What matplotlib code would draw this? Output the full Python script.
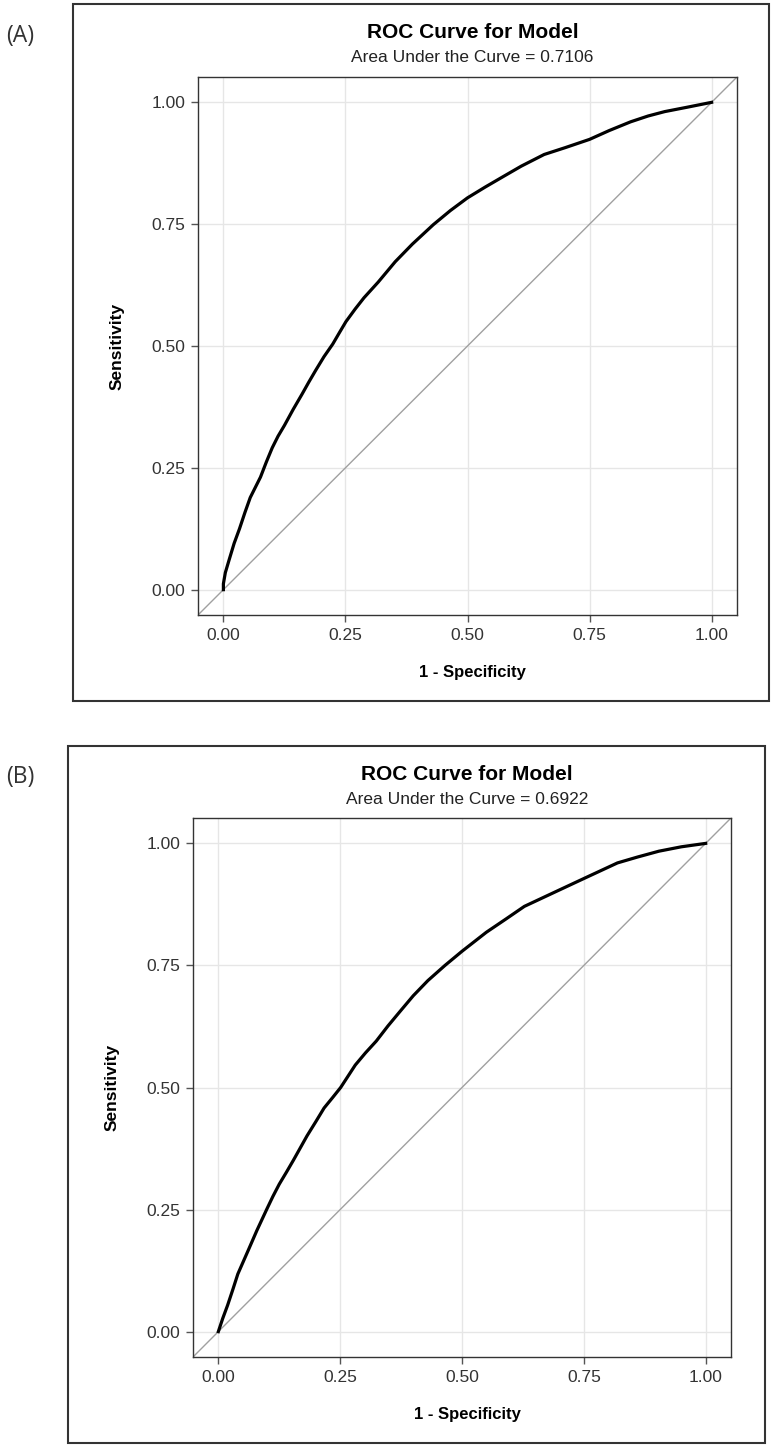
import matplotlib
matplotlib.use('Agg')
import matplotlib.pyplot as plt
from matplotlib.patches import Rectangle

# figure size in pixels
W, H = 776, 1446

# ROC curve points
fpr_a = [0.0, 0.0, 0.004, 0.012, 0.022, 0.033, 0.044, 0.055, 0.066, 0.076, 0.088,
         0.10, 0.112, 0.125, 0.143, 0.161, 0.175, 0.189, 0.206, 0.224, 0.238,
         0.251, 0.27, 0.288, 0.317, 0.352, 0.387, 0.43, 0.465, 0.50, 0.536,
         0.572, 0.61, 0.657, 0.70, 0.75, 0.79, 0.834, 0.87, 0.904, 0.95, 1.0]
tpr_a = [0.0, 0.012, 0.035, 0.062, 0.095, 0.125, 0.158, 0.189, 0.211, 0.231, 0.262,
         0.291, 0.315, 0.337, 0.37, 0.401, 0.426, 0.45, 0.478, 0.504, 0.528,
         0.55, 0.576, 0.599, 0.631, 0.673, 0.709, 0.749, 0.778, 0.804, 0.826,
         0.847, 0.869, 0.893, 0.907, 0.924, 0.942, 0.96, 0.972, 0.981, 0.99, 1.0]
auc_a = 0.7106

# ROC curve points
fpr_b = [0.0, 0.009, 0.019, 0.03, 0.04, 0.051, 0.062, 0.079, 0.10, 0.112, 0.125,
         0.14, 0.154, 0.168, 0.182, 0.2, 0.217, 0.235, 0.251, 0.281, 0.302,
         0.324, 0.348, 0.373, 0.40, 0.43, 0.465, 0.50, 0.55, 0.59, 0.628, 0.69,
         0.75, 0.819, 0.86, 0.904, 0.95, 1.0]
tpr_b = [0.0, 0.027, 0.054, 0.087, 0.118, 0.143, 0.168, 0.207, 0.252, 0.277, 0.302,
         0.327, 0.351, 0.376, 0.401, 0.43, 0.458, 0.48, 0.50, 0.546, 0.571,
         0.595, 0.626, 0.656, 0.688, 0.719, 0.75, 0.779, 0.818, 0.845, 0.871,
         0.90, 0.928, 0.96, 0.972, 0.984, 0.993, 1.0]
auc_b = 0.6922

ticks = [0.0, 0.25, 0.5, 0.75, 1.0]
tick_labels = ['0.00', '0.25', '0.50', '0.75', '1.00']

plt.rcParams['font.family'] = ['Liberation Sans', 'DejaVu Sans']

fig = plt.figure(figsize=(W / 100, H / 100), dpi=100)


def fx(x):
    return x / W


def fy(y):
    return 1 - y / H


def panel(letter, letter_y, box, axbox, fpr, tpr, auc):
    # outer frame
    bx0, by0, bx1, by1 = box
    fig.patches.append(Rectangle((fx(bx0), fy(by1)), (bx1 - bx0) / W, (by1 - by0) / H,
                                 transform=fig.transFigure, fill=False,
                                 edgecolor='#333333', linewidth=1.5))
    fig.text(fx(20), fy(letter_y), '(' + letter + ')', family='Open Sans',
             fontsize=16.5, ha='center', va='center', color='#333333')

    ax0, ay0, ax1, ay1 = axbox
    ax = fig.add_axes([fx(ax0), fy(ay1), (ax1 - ax0) / W, (ay1 - ay0) / H])
    ax.set_xlim(-0.052, 1.052)
    ax.set_ylim(-0.052, 1.052)
    ax.set_xticks(ticks)
    ax.set_xticklabels(tick_labels)
    ax.set_yticks(ticks)
    ax.set_yticklabels(tick_labels)
    ax.grid(True, color='#e6e6e6', linewidth=1)
    ax.set_axisbelow(True)
    ax.tick_params(direction='out', length=5, width=1, color='#555555',
                   labelsize=12.5, labelcolor='#333333', pad=4)
    for s in ax.spines.values():
        s.set_color('#333333')
        s.set_linewidth(1)

    ax.axline((0, 0), (1, 1), color='#a0a0a0', linewidth=1)
    ax.plot(fpr, tpr, color='black', linewidth=2.3)

    cx = fx((ax0 + ax1) / 2 + 5)
    fig.text(cx, fy(by0 + 28), 'ROC Curve for Model', fontsize=15,
             fontweight='bold', ha='center', va='center')
    fig.text(cx, fy(by0 + 53), 'Area Under the Curve = %.4f' % auc,
             fontsize=12.5, ha='center', va='center', color='#222222')
    fig.text(cx, fy(by1 - 29), '1 - Specificity', fontsize=12,
             fontweight='bold', ha='center', va='center')
    fig.text(fx(ax0 - 81), fy((ay0 + ay1) / 2), 'Sensitivity', fontsize=12.5,
             fontweight='bold', ha='center', va='center', rotation=90)


panel('A', 36, (73, 4, 769, 701), (198, 77, 737, 615), fpr_a, tpr_a, auc_a)
panel('B', 777, (68, 746, 765, 1443), (193, 818, 731, 1357), fpr_b, tpr_b, auc_b)

plt.savefig('out.png', dpi=100)
